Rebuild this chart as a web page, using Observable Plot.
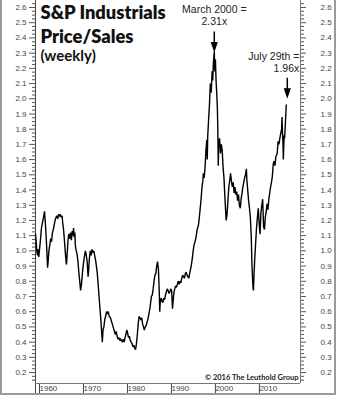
<!DOCTYPE html>
<html><head><meta charset="utf-8">
<script src="https://cdn.jsdelivr.net/npm/d3@7"></script>
<script src="https://cdn.jsdelivr.net/npm/@observablehq/plot@0.6"></script>
<style>
html,body{margin:0;padding:0;background:#fff;}
#wrap{position:relative;width:350px;height:409px;overflow:hidden;}
#border{position:absolute;left:0;top:0;width:332px;height:393px;border:2px solid #9a9a9a;border-top:none;pointer-events:none;}
</style></head>
<body><div id="wrap"><div id="border"></div></div>
<script>
// Price/Sales ratio, weekly as [year, ratio]
const p1960s = [[1959.55,1.11],[1959.7,1.06],[1959.85,1.00],[1960.0,0.97],[1960.15,1.01],[1960.3,0.96],[1960.5,1.02],[1960.7,1.08],[1960.9,1.15],[1961.1,1.18],[1961.3,1.21],[1961.5,1.24],[1961.6,1.26],[1961.75,1.20],[1961.9,1.13],[1962.1,1.02],[1962.3,0.89],[1962.45,0.94],[1962.6,1.00],[1962.8,1.04],[1963.0,1.08],[1963.2,1.06],[1963.4,1.12],[1963.6,1.14],[1963.8,1.17],[1964.0,1.20],[1964.2,1.22],[1964.4,1.23],[1964.6,1.21],[1964.8,1.24],[1965.0,1.23],[1965.2,1.24],[1965.4,1.22],[1965.6,1.23],[1965.75,1.18],[1965.9,1.15],[1966.1,1.08],[1966.3,1.00],[1966.5,0.93],[1966.6,0.91],[1966.75,0.98],[1966.9,1.05],[1967.1,1.11],[1967.3,1.08],[1967.5,1.12],[1967.7,1.07],[1967.9,1.13],[1968.1,1.10],[1968.2,1.15],[1968.35,1.09],[1968.5,1.12],[1968.6,1.04],[1968.8,1.00],[1969.0,0.98],[1969.2,0.93],[1969.4,0.86],[1969.6,0.80],[1969.8,0.74]];
const p1970s = [[1970.0,0.78],[1970.3,0.88],[1970.6,0.95],[1970.9,1.00],[1971.1,0.97],[1971.3,0.93],[1971.5,0.83],[1971.6,0.86],[1971.8,0.95],[1972.0,1.00],[1972.2,0.97],[1972.4,1.01],[1972.6,0.99],[1972.8,1.00],[1973.0,0.97],[1973.2,0.94],[1973.4,0.90],[1973.6,0.85],[1973.8,0.78],[1974.0,0.70],[1974.2,0.62],[1974.4,0.55],[1974.6,0.46],[1974.75,0.40],[1974.9,0.48],[1975.1,0.50],[1975.3,0.55],[1975.5,0.57],[1975.7,0.60],[1975.9,0.59],[1976.1,0.60],[1976.3,0.57],[1976.6,0.56],[1976.9,0.53],[1977.2,0.50],[1977.5,0.47],[1977.7,0.45],[1977.9,0.47],[1978.1,0.44],[1978.3,0.42],[1978.5,0.43],[1978.7,0.41],[1978.9,0.42],[1979.1,0.41],[1979.3,0.40],[1979.5,0.42],[1979.7,0.40],[1979.9,0.43]];
const p1980s = [[1980.1,0.45],[1980.3,0.48],[1980.5,0.46],[1980.7,0.43],[1980.9,0.44],[1981.1,0.41],[1981.3,0.40],[1981.5,0.39],[1981.7,0.37],[1981.9,0.38],[1982.1,0.36],[1982.3,0.35],[1982.5,0.39],[1982.7,0.45],[1982.9,0.52],[1983.1,0.57],[1983.3,0.56],[1983.5,0.55],[1983.7,0.56],[1983.9,0.52],[1984.1,0.50],[1984.3,0.48],[1984.5,0.50],[1984.7,0.51],[1984.9,0.53],[1985.1,0.55],[1985.3,0.58],[1985.6,0.63],[1985.9,0.70],[1986.1,0.71],[1986.3,0.75],[1986.5,0.80],[1986.7,0.84],[1986.9,0.85],[1987.1,0.90],[1987.3,0.93],[1987.5,0.88],[1987.7,0.72],[1987.8,0.60],[1987.9,0.66],[1988.1,0.69],[1988.3,0.67],[1988.5,0.66],[1988.7,0.69],[1988.9,0.68],[1989.1,0.71],[1989.3,0.73],[1989.5,0.75],[1989.7,0.74],[1989.9,0.72]];
const p1990s = [[1990.1,0.73],[1990.3,0.75],[1990.5,0.74],[1990.7,0.62],[1990.8,0.66],[1991.0,0.72],[1991.2,0.75],[1991.4,0.77],[1991.6,0.76],[1991.8,0.78],[1992.0,0.80],[1992.2,0.78],[1992.4,0.80],[1992.6,0.79],[1992.8,0.82],[1993.0,0.84],[1993.2,0.83],[1993.4,0.82],[1993.6,0.85],[1993.8,0.86],[1994.0,0.84],[1994.2,0.83],[1994.4,0.82],[1994.6,0.85],[1994.8,0.88],[1995.0,0.91],[1995.2,0.95],[1995.4,1.00],[1995.6,1.04],[1995.9,1.07],[1996.1,1.10],[1996.3,1.14],[1996.6,1.17],[1996.8,1.22],[1997.0,1.28],[1997.2,1.34],[1997.4,1.42],[1997.6,1.46],[1997.7,1.51],[1997.9,1.48],[1998.1,1.55],[1998.3,1.66],[1998.5,1.73],[1998.6,1.60],[1998.7,1.75],[1998.9,1.86],[1999.1,1.96],[1999.3,2.10],[1999.5,2.04],[1999.7,2.18],[1999.85,2.12]];
const p2000s = [[2000.0,2.24],[2000.2,2.31],[2000.3,2.18],[2000.45,2.26],[2000.6,2.12],[2000.75,2.04],[2000.9,1.94],[2001.0,1.80],[2001.1,1.56],[2001.2,1.70],[2001.4,1.74],[2001.6,1.64],[2001.8,1.70],[2002.0,1.66],[2002.2,1.55],[2002.4,1.48],[2002.6,1.36],[2002.8,1.25],[2002.9,1.20],[2003.1,1.24],[2003.3,1.33],[2003.5,1.42],[2003.7,1.46],[2003.9,1.51],[2004.1,1.46],[2004.3,1.42],[2004.5,1.45],[2004.7,1.38],[2004.9,1.42],[2005.1,1.37],[2005.3,1.39],[2005.5,1.33],[2005.7,1.37],[2005.9,1.30],[2006.1,1.28],[2006.3,1.34],[2006.5,1.38],[2006.7,1.42],[2006.9,1.45],[2007.1,1.48],[2007.3,1.50],[2007.5,1.54],[2007.6,1.47],[2007.8,1.40],[2008.0,1.33],[2008.2,1.28],[2008.4,1.22],[2008.6,1.10],[2008.75,0.92],[2008.9,0.82],[2009.0,0.76],[2009.1,0.74],[2009.2,0.82],[2009.4,0.95],[2009.6,1.05],[2009.8,1.15]];
const p2010s = [[2010.0,1.22],[2010.2,1.28],[2010.4,1.18],[2010.6,1.11],[2010.8,1.25],[2011.0,1.30],[2011.2,1.34],[2011.4,1.16],[2011.6,1.14],[2011.8,1.22],[2012.0,1.26],[2012.2,1.31],[2012.4,1.27],[2012.6,1.34],[2012.8,1.38],[2013.0,1.42],[2013.2,1.45],[2013.4,1.49],[2013.6,1.57],[2013.8,1.59],[2014.0,1.56],[2014.2,1.62],[2014.5,1.64],[2014.7,1.72],[2014.9,1.70],[2015.1,1.74],[2015.3,1.77],[2015.5,1.80],[2015.6,1.88],[2015.7,1.78],[2015.8,1.72],[2015.9,1.60],[2016.0,1.70],[2016.1,1.76],[2016.2,1.74],[2016.4,1.86],[2016.5,1.92],[2016.57,1.96]];

const xTicks = [1960, 1970, 1980, 1990, 2000, 2010];
const yTicks = [0.2,0.3,0.4,0.5,0.6,0.7,0.8,0.9,1.0,1.1,1.2,1.3,1.4,1.5,1.6,1.7,1.8,1.9,2.0,2.1,2.2,2.3,2.4,2.5,2.6];
const xDomain = [1959.55, 2019.8];
const yDomain = [0.128, 2.646];

const titleLine1 = "S&P Industrials";
const titleLine2 = "Price/Sales";
const subtitle = "(weekly)";
const credit = "© 2016 The Leuthold Group";
const peakCallout = [{year: 2000.2, ratio: 2.31, text: "March 2000 =\n2.31x"}];
const lastCallout = [{year: 2016.57, ratio: 1.96, text: "July 29th =\n1.96x"}];

const series = [...p1960s, ...p1970s, ...p1980s, ...p1990s, ...p2000s, ...p2010s]
  .map(([year, ratio]) => ({year, ratio}));

const minorTicks = d3.range(0.15, 2.64, 0.025).filter(v => Math.abs(v*10 - Math.round(v*10)) > 0.01);

const arrowSymbol = {
  draw(ctx) {
    ctx.moveTo(-0.75, -21);
    ctx.lineTo(0.75, -21);
    ctx.lineTo(0.75, -10.5);
    ctx.lineTo(3.6, -10.5);
    ctx.lineTo(0, 0);
    ctx.lineTo(-3.6, -10.5);
    ctx.lineTo(-0.75, -10.5);
    ctx.closePath();
  }
};

const axisFont = "Liberation Sans, Arial, sans-serif";
const titleFont = "Lato, 'Open Sans', sans-serif";
const tickColor = "#555";

const chart = Plot.plot({
  width: 350,
  height: 409,
  marginLeft: 35,
  marginRight: 50,
  marginTop: 0,
  marginBottom: 26,
  style: {fontFamily: axisFont, fontSize: "8px", color: "#333", background: "#fff", overflow: "visible"},
  x: {domain: xDomain},
  y: {domain: yDomain},
  marks: [
    Plot.axisY({anchor: "left", ticks: minorTicks, tickSize: 3, text: null, stroke: tickColor, label: null}),
    Plot.axisY({anchor: "right", ticks: minorTicks, tickSize: 3, text: null, stroke: tickColor, label: null}),
    Plot.axisY({anchor: "left", ticks: yTicks, tickSize: 6, tickPadding: 3, tickFormat: d3.format(".1f"), stroke: tickColor, fill: "#444", label: null}),
    Plot.axisY({anchor: "right", ticks: yTicks, tickSize: 5, tickPadding: 15, tickFormat: d3.format(".1f"), stroke: tickColor, fill: "#444", label: null}),
    Plot.axisX({anchor: "bottom", ticks: xTicks, tickSize: 11, tickPadding: -9, textAnchor: "start", dx: 2, tickFormat: d => String(d), stroke: "#444", fill: "#444", label: null}),
    Plot.ruleX([xDomain[0]], {stroke: "#444", insetBottom: -11}),
    Plot.ruleX([xDomain[1]], {stroke: "#777"}),
    Plot.ruleY([yDomain[0]], {stroke: "#777"}),
    Plot.line(series, {x: "year", y: "ratio", stroke: "#000", strokeWidth: 1.4, strokeLinejoin: "miter", strokeMiterlimit: 2}),
    Plot.text([titleLine1], {frameAnchor: "top-left", dx: 5, dy: 5, lineAnchor: "top", textAnchor: "start",
      fontFamily: titleFont, fontWeight: 800, fontSize: 18.3, fill: "#111"}),
    Plot.text([titleLine2], {frameAnchor: "top-left", dx: 5, dy: 29, lineAnchor: "top", textAnchor: "start",
      fontFamily: titleFont, fontWeight: 800, fontSize: 18.3, fill: "#111"}),
    Plot.text([subtitle], {frameAnchor: "top-left", dx: 5, dy: 50, lineAnchor: "top", textAnchor: "start",
      fontFamily: titleFont, fontWeight: 700, fontSize: 15, fill: "#111"}),
    Plot.text([credit], {frameAnchor: "bottom-right", dx: -2, dy: -4, lineAnchor: "bottom", textAnchor: "end",
      fontFamily: titleFont, fontWeight: 700, fontSize: 7.5, fill: "#222"}),
    Plot.text(peakCallout, {x: "year", frameAnchor: "top", text: "text", dy: 4, lineAnchor: "top", textAnchor: "middle",
      lineHeight: 1.15, fontSize: 10.5, fill: "#222"}),
    Plot.dot(peakCallout, {x: "year", y: "ratio", symbol: arrowSymbol, fill: "#000", stroke: null, dy: 1}),
    Plot.text(lastCallout, {x: "year", frameAnchor: "top", text: "text", dx: 13, dy: 51, lineAnchor: "top", textAnchor: "end",
      lineHeight: 1.15, fontSize: 10.5, fill: "#222"}),
    Plot.dot(lastCallout, {x: "year", y: "ratio", symbol: arrowSymbol, fill: "#000", stroke: null, dx: 1, dy: -6})
  ]
});
document.getElementById("wrap").prepend(chart);
</script>
</body></html>
